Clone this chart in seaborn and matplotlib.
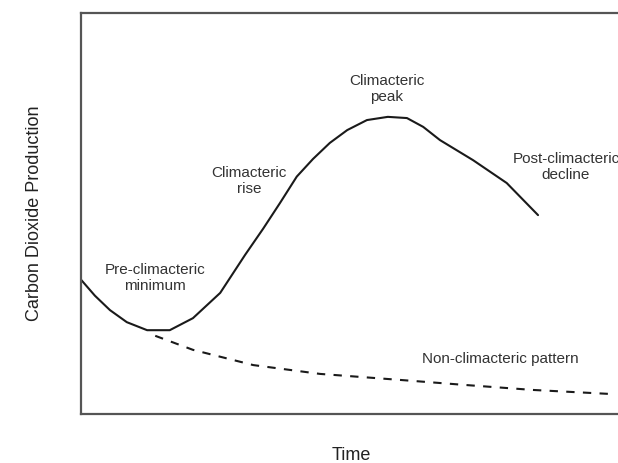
import numpy as np
import pandas as pd
import matplotlib
matplotlib.use("Agg")
import matplotlib.pyplot as plt
import seaborn as sns

# climacteric respiration curve (time, CO2)
climacteric_time = [0.0, 0.24, 0.50, 0.79, 1.14, 1.53, 1.93, 2.40, 2.83, 3.14, 3.43, 3.72, 4.00,
                    4.29, 4.59, 4.93, 5.29, 5.62, 5.90, 6.19, 6.76, 7.34, 7.88]
climacteric_co2 = [3.35, 2.95, 2.59, 2.29, 2.09, 2.09, 2.39, 3.02, 3.97, 4.62, 5.26, 5.92, 6.36,
                   6.76, 7.08, 7.33, 7.41, 7.38, 7.16, 6.83, 6.33, 5.76, 4.96]

# non-climacteric pattern
non_time = [1.28, 1.93, 2.97, 4.12, 5.50, 6.66, 7.79, 9.12]
non_co2 = [1.95, 1.60, 1.22, 1.00, 0.85, 0.72, 0.60, 0.50]

sns.set_style("white")
plt.rcParams['font.family'] = ['Liberation Sans', 'DejaVu Sans']

fig = plt.figure(figsize=(6.18, 4.63), dpi=100)
ax = fig.add_axes([81 / 618, 1 - 414 / 463, 540 / 618, 401 / 463])

df_c = pd.DataFrame({"Time": climacteric_time, "CO2": climacteric_co2})
df_n = pd.DataFrame({"Time": non_time, "CO2": non_co2})
sns.lineplot(data=df_c, x="Time", y="CO2", ax=ax, color="#1a1a1a", linewidth=1.5,
             sort=False)
sns.lineplot(data=df_n, x="Time", y="CO2", ax=ax, color="#1a1a1a", linewidth=1.5,
             sort=False, linestyle=(0, (4, 4)))

ax.set_xlim(0, 540 / 58)
ax.set_ylim(0, 401 / 40.1)
ax.set_xticks([])
ax.set_yticks([])
ax.spines["right"].set_visible(False)
for s in ["left", "top", "bottom"]:
    ax.spines[s].set_color("#555555")
    ax.spines[s].set_linewidth(1.6)

txt = dict(ha="center", va="center", fontsize=11, color="#333333", linespacing=1.1)
ax.text((155 - 81) / 58, (414 - 278) / 40.1, "Pre-climacteric\nminimum", **txt)
ax.text((249 - 81) / 58, (414 - 181) / 40.1, "Climacteric\nrise", **txt)
ax.text((387 - 81) / 58, (414 - 89) / 40.1, "Climacteric\npeak", **txt)
ax.text((566 - 81) / 58, (414 - 167) / 40.1, "Post-climacteric\ndecline", **txt)
ax.text((500 - 81) / 58, (414 - 359) / 40.1, "Non-climacteric pattern", **txt)

ax.set_xlabel("Time", fontsize=13, color="#222222", labelpad=24)
ax.set_ylabel("Carbon Dioxide Production", fontsize=13, color="#222222", labelpad=27)

fig.savefig("out.png", dpi=100)
